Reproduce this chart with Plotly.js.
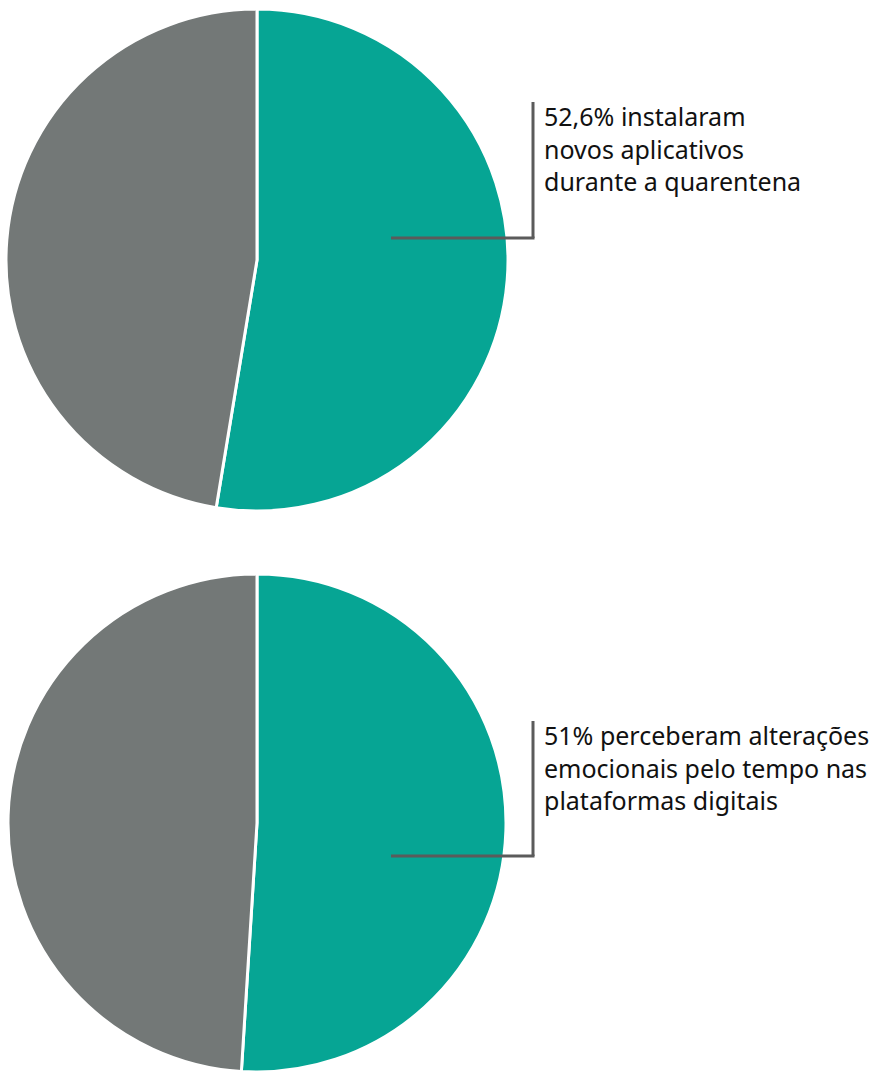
<!DOCTYPE html>
<html>
<head>
<meta charset="utf-8">
<script src="https://cdn.plot.ly/plotly-3.0.1.min.js"></script>
<style>html,body{margin:0;padding:0;background:#fff;}#chart{width:874px;height:1072px;}</style>
</head>
<body>
<div id="chart"></div>
<script>
const categories = ["Sim", "Não"];
const pie1Values = [52.6, 47.4];
const pie2Values = [51, 49];
const pie1Label = ["52,6% instalaram", "novos aplicativos", "durante a quarentena"];
const pie2Label = ["51% perceberam alterações", "emocionais pelo tempo nas", "plataformas digitais"];
const colors = ["#06a594", "#737877"];

const W = 874, H = 1072;
const px = x => x / W;
const py = y => 1 - y / H;

const common = {
  type: "pie",
  labels: categories,
  sort: false,
  direction: "clockwise",
  rotation: 0,
  textinfo: "none",
  hoverinfo: "label+percent",
  showlegend: false,
  marker: {colors: colors, line: {color: "#ffffff", width: 3}}
};

const data = [
  Object.assign({}, common, {values: pie1Values, domain: {x: [px(6), px(508)], y: [py(511), py(9)]}}),
  Object.assign({}, common, {values: pie2Values, domain: {x: [px(6), px(508)], y: [0, py(574)]}})
];

const lineStyle = {color: "#5b5b5b", width: 3};

function leader(yTop, yH) {
  return [
    {type: "line", xref: "paper", yref: "paper", x0: px(533), x1: px(533), y0: py(yTop), y1: py(yH), line: lineStyle},
    {type: "line", xref: "paper", yref: "paper", x0: px(391), x1: px(534.5), y0: py(yH), y1: py(yH), line: lineStyle}
  ];
}

const layout = {
  width: W, height: H,
  margin: {l: 0, r: 0, t: 0, b: 0},
  paper_bgcolor: "#ffffff",
  plot_bgcolor: "#ffffff",
  font: {family: "Noto Sans, sans-serif", size: 25, color: "#111111"},
  shapes: leader(102, 238).concat(leader(721, 856)),
  annotations: [
    {xref: "paper", yref: "paper", x: px(542), y: py(97), xanchor: "left", yanchor: "top", align: "left", showarrow: false, text: pie1Label.join("<br>"), font: {size: 25}},
    {xref: "paper", yref: "paper", x: px(542), y: py(716), xanchor: "left", yanchor: "top", align: "left", showarrow: false, text: pie2Label.join("<br>"), font: {size: 25}}
  ]
};

Plotly.newPlot("chart", data, layout, {displayModeBar: false});
</script>
</body>
</html>
